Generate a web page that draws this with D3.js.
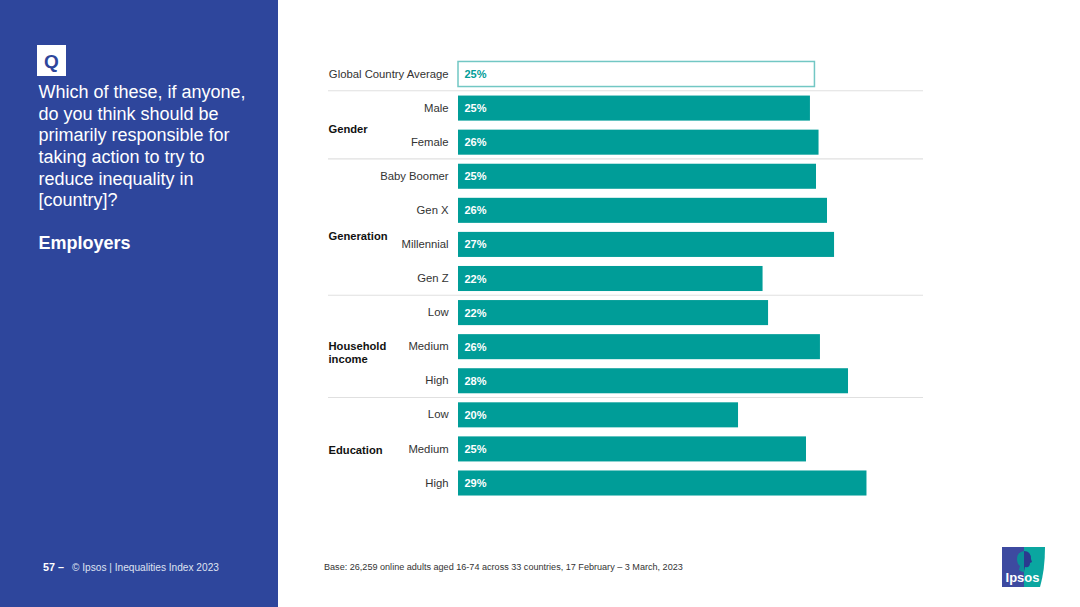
<!DOCTYPE html>
<html><head><meta charset="utf-8">
<script src="https://cdn.jsdelivr.net/npm/d3@7/dist/d3.min.js"></script>
<style>html,body{margin:0;padding:0;background:#fff}svg{display:block}text{font-family:"Liberation Sans",Arial,sans-serif}</style>
</head><body><svg id="c" width="1080" height="607"></svg>
<script>
const categories = ["Global Country Average","Male","Female","Baby Boomer","Gen X","Millennial","Gen Z","Low","Medium","High","Low","Medium","High"];
const values = [25.28,24.96,25.57,25.39,26.17,26.67,21.6,21.99,25.67,27.66,19.86,24.68,28.97];
const valueLabels = ["25%","25%","26%","25%","26%","27%","22%","22%","26%","28%","20%","25%","29%"];
const groupNames = [["Gender"],["Generation"],["Household","income"],["Education"]];
const groupFirstRow = [1,3,7,10];
const groupLabelRowPos = [1.62,4.75,8.18,11.03];
const questionLines = ["Which of these, if anyone,","do you think should be","primarily responsible for","taking action to try to","reduce inequality in","[country]?"];
const answerLabel = "Employers";
const footerPage = "57";
const footerDash = "–";
const footerText = "© Ipsos | Inequalities Index 2023";
const baseText = "Base: 26,259 online adults aged 16-74 across 33 countries, 17 February – 3 March, 2023";

const BLUE="#2e469c", TEAL="#009d98";
const svg=d3.select("#c");
svg.append("rect").attr("width",278).attr("height",607).attr("fill",BLUE);

// Question panel
svg.append("rect").attr("x",37).attr("y",45).attr("width",29).attr("height",31).attr("fill","#fff");
svg.append("text").attr("x",51.5).attr("y",68).attr("text-anchor","middle").attr("font-size",19).attr("font-weight",700).attr("fill",BLUE).text("Q");
svg.append("g").selectAll("text").data(questionLines).join("text")
  .attr("x",38.5).attr("y",(d,i)=>98+i*21.63).attr("font-size",18).attr("fill","#fff").text(d=>d);
svg.append("text").attr("x",38.5).attr("y",249).attr("font-size",18).attr("font-weight",700).attr("fill","#fff").text(answerLabel);

// Scales
const rows=d3.range(categories.length);
const x=d3.scaleLinear().domain([0,30]).range([458,458+14.1*30]);
const y=d3.scaleBand().domain(rows).range([56.96,500.04]).paddingInner(0.265).paddingOuter(0.1325);

// Axis of row labels
const ax=svg.append("g").attr("transform","translate(448.6,0)")
  .call(d3.axisLeft(y).tickSize(0).tickPadding(0).tickFormat(i=>categories[i]));
ax.select(".domain").remove();
ax.selectAll("text").attr("font-size",11.3).attr("fill","#333");
ax.selectAll("text").attr("font-family",'"Liberation Sans",Arial,sans-serif');

// Separators
const sepY=d=>y(d)-(y.step()-y.bandwidth())/2-0.3;
svg.append("g").selectAll("line").data(groupFirstRow).join("line")
  .attr("x1",328).attr("x2",923)
  .attr("y1",sepY).attr("y2",sepY)
  .attr("stroke","#e0e0e0").attr("stroke-width",1.2);

// Bars
svg.append("g").selectAll("rect").data(rows).join("rect")
  .attr("x",x(0)).attr("y",i=>y(i)).attr("width",i=>x(values[i])-x(0)).attr("height",y.bandwidth())
  .attr("fill",i=>i===0?"#fff":TEAL)
  .attr("stroke",i=>i===0?"#72c7c4":"none").attr("stroke-width",1.5);

// Value labels
svg.append("g").selectAll("text").data(rows).join("text")
  .attr("x",x(0)+6.5).attr("y",i=>y(i)+y.bandwidth()/2+4).attr("font-size",11).attr("font-weight",700)
  .attr("fill",i=>i===0?TEAL:"#fff").text(i=>valueLabels[i]);

// Group labels
const gl=svg.append("g").selectAll("text").data(groupNames).join("text")
  .attr("font-size",11.2).attr("font-weight",700).attr("fill","#111");
gl.each(function(lines,k){
  const c=y(0)+y.bandwidth()/2+groupLabelRowPos[k]*y.step();
  const t0=c+4-(lines.length-1)*6.6;
  d3.select(this).selectAll("tspan").data(lines).join("tspan")
    .attr("x",328.5).attr("y",(d,i)=>t0+i*13.2).text(d=>d);
});

// Footer
const f=svg.append("text").attr("x",43).attr("y",571).attr("font-size",10.15).attr("fill","#fff");
f.append("tspan").attr("font-weight",700).attr("font-size",10.8).text(footerPage+" "+footerDash);
f.append("tspan").attr("dx",8).attr("fill","#dfe3f1").text(footerText);
svg.append("text").attr("x",324).attr("y",570).attr("font-size",9.08).attr("fill","#333").text(baseText);

// Logo
const logo=svg.append("g");
logo.append("rect").attr("x",1002).attr("y",547).attr("width",22).attr("height",40).attr("fill","#3d4aa0");
logo.append("path").attr("d","M1024 547 H1045 Q1045 570 1040 587 H1024 Z").attr("fill","#0aa6a0");
logo.append("path").attr("d","M1024 551 Q1017 552 1017 559 Q1017 564 1020 566 L1019 570 Q1021 572 1024 572 Z").attr("fill","#0b8f98");
logo.append("path").attr("d","M1024 551 Q1031 551 1031 559 L1032 562 L1030 563 Q1030 568 1025 567 L1024 572 Z").attr("fill","#2b3a8f");
logo.append("text").attr("x",1022.5).attr("y",582).attr("text-anchor","middle").attr("font-size",13).attr("font-weight",700).attr("fill","#fff").text("Ipsos");
</script></body></html>
